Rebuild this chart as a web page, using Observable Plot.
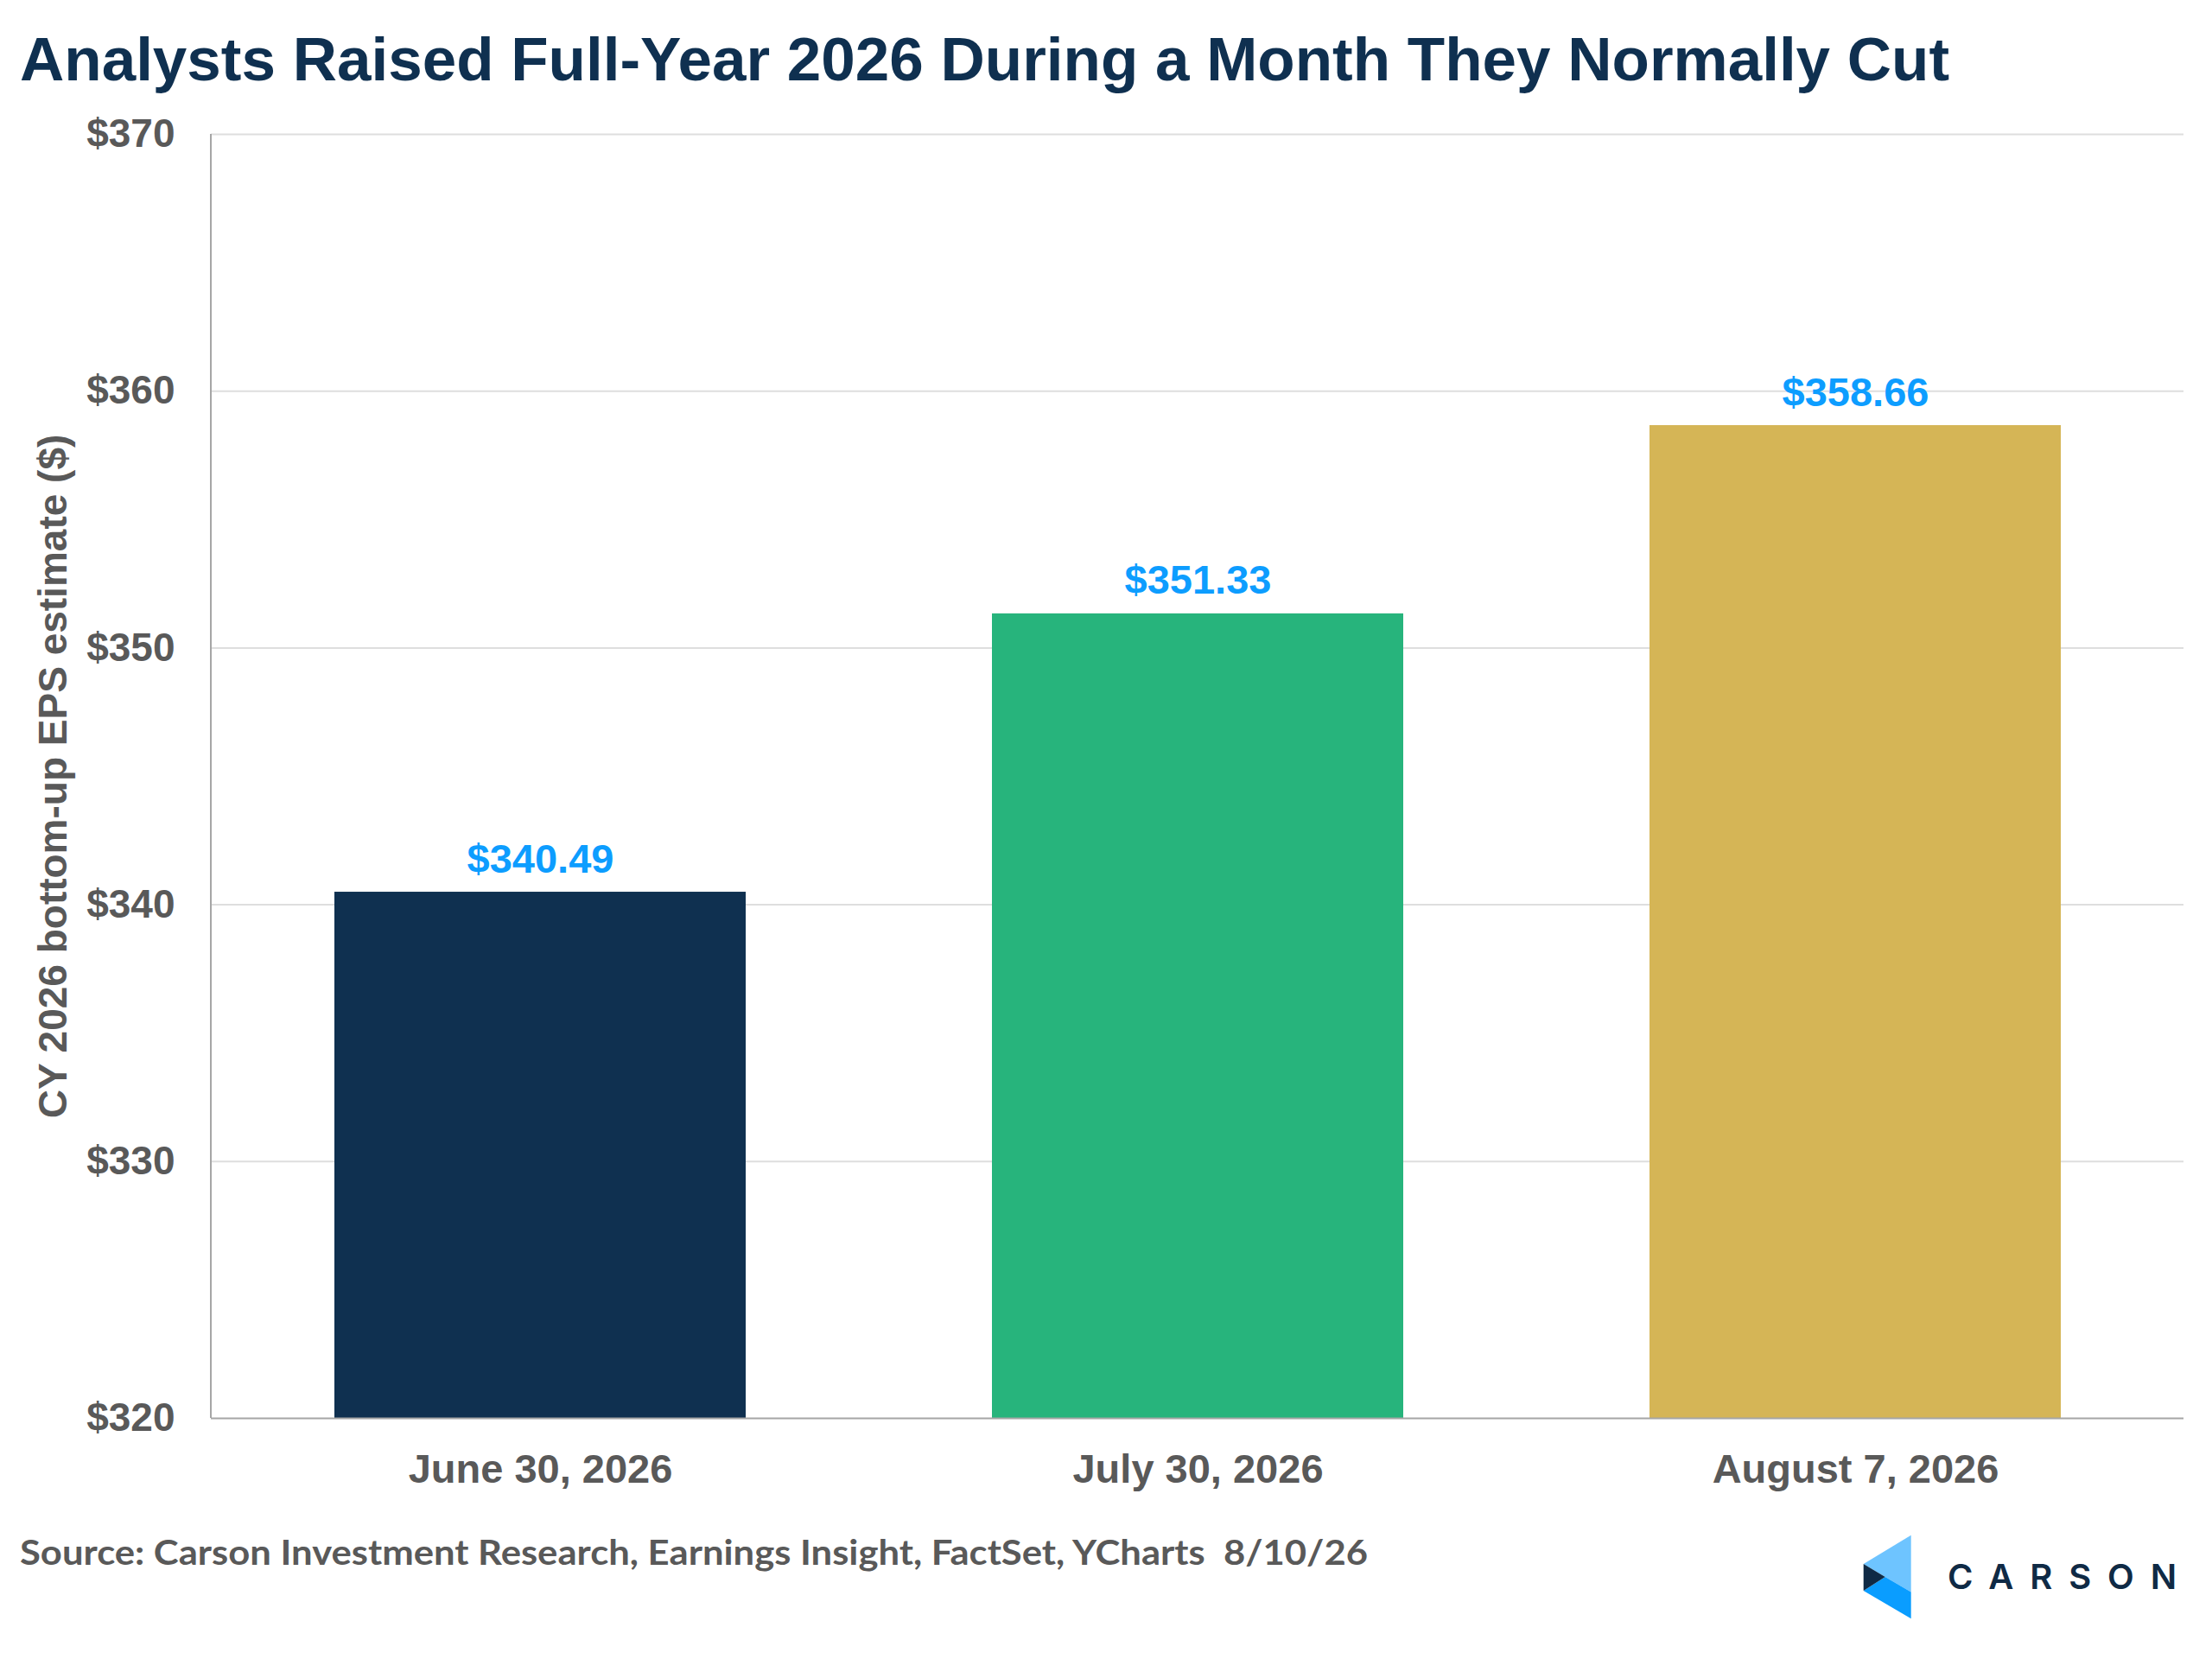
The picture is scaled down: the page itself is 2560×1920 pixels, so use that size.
<!DOCTYPE html>
<html>
<head>
<meta charset="utf-8">
<script src="https://cdn.jsdelivr.net/npm/d3@7"></script>
<script src="https://cdn.jsdelivr.net/npm/@observablehq/plot@0.6"></script>
<style>
  html, body { margin: 0; padding: 0; background: #ffffff; }
  #page { width: 2560px; height: 1920px; position: relative; background: #ffffff; overflow: hidden; }
  svg { display: block; }
</style>
</head>
<body>
<div id="page">
  <svg id="header" width="2560" height="120">
    <text x="23" y="93" font-family="'Liberation Sans', Arial, sans-serif" font-weight="bold" font-size="71" fill="#0f3050">Analysts Raised Full-Year 2026 During a Month They Normally Cut</text>
  </svg>
  <div id="chart"></div>
  <svg id="footer" width="2560" height="179">
    <text x="23" y="70" font-family="Lato, 'Open Sans', sans-serif" font-weight="bold" font-size="41" fill="#595959" textLength="1560" lengthAdjust="spacingAndGlyphs" style="white-space: pre" xml:space="preserve">Source: Carson Investment Research, Earnings Insight, FactSet, YCharts  8/10/26</text>
    <g id="logo">
      <polygon points="2156.7,69 2211.7,35.7 2211.7,101.6 2181.7,84" fill="#6ec4ff"/>
      <polygon points="2181.7,84 2211.7,101.6 2211.7,132.3 2156.7,100" fill="#0a9dff"/>
      <polygon points="2156.7,69 2181.7,84 2156.7,100" fill="#0f2a45"/>
      <text x="2254" y="98" font-family="Inter, 'Liberation Sans', sans-serif" font-weight="600" font-size="40" fill="#0f2a45" textLength="265" lengthAdjust="spacing">CARSON</text>
    </g>
  </svg>
</div>
<script>
const dates = ["June 30, 2026", "July 30, 2026", "August 7, 2026"];
const eps = [340.49, 351.33, 358.66];
const barColors = ["#0f3050", "#27b47c", "#d5b556"];
const yTicks = [320, 330, 340, 350, 360, 370];
const yLabel = "CY 2026 bottom-up EPS estimate ($)";

const table = dates.map((d, i) => ({date: d, eps: eps[i], color: barColors[i]}));

const axisLineLeft = (index, scales, values, dims) => {
  const ns = "http://www.w3.org/2000/svg";
  const line = document.createElementNS(ns, "line");
  line.setAttribute("x1", dims.marginLeft);
  line.setAttribute("x2", dims.marginLeft);
  line.setAttribute("y1", dims.marginTop);
  line.setAttribute("y2", dims.height - dims.marginBottom);
  line.setAttribute("stroke", "#a6a6a6");
  line.setAttribute("stroke-width", 2);
  return line;
};

const chart = Plot.plot({
  width: 2560,
  height: 1621,
  marginLeft: 244,
  marginRight: 33,
  marginTop: 35,
  marginBottom: 100,
  style: {fontFamily: "'Liberation Sans', Arial, sans-serif", background: "#ffffff", overflow: "visible"},
  x: {domain: dates, paddingInner: 0.375, paddingOuter: 0.1875, label: null},
  y: {domain: [320, 370], label: null},
  color: {type: "identity"},
  marks: [
    Plot.gridY(yTicks.filter(d => d > 320), {stroke: "#dedede", strokeOpacity: 1, strokeWidth: 2}),
    Plot.barY(table, {x: "date", y1: 320, y2: "eps", fill: "color"}),
    Plot.ruleY([320], {stroke: "#a6a6a6", strokeWidth: 2}),
    axisLineLeft,
    Plot.text(table, {x: "date", y: "eps", text: d => "$" + d.eps.toFixed(2), dy: -23, lineAnchor: "bottom",
      fill: "#0d9dff", fontSize: 47, fontWeight: "bold"}),
    Plot.axisY({ticks: yTicks, tickFormat: d => "$" + d, tickSize: 0, tickPadding: 42,
      fontSize: 46, fontWeight: "bold", fill: "#595959",
      label: yLabel, labelAnchor: "center", labelArrow: "none", labelOffset: 200}),
    Plot.axisX({tickSize: 0, tickPadding: 41, fontSize: 47, fontWeight: "bold", fill: "#595959", label: null})
  ]
});
document.getElementById("chart").appendChild(chart);
</script>
</body>
</html>
